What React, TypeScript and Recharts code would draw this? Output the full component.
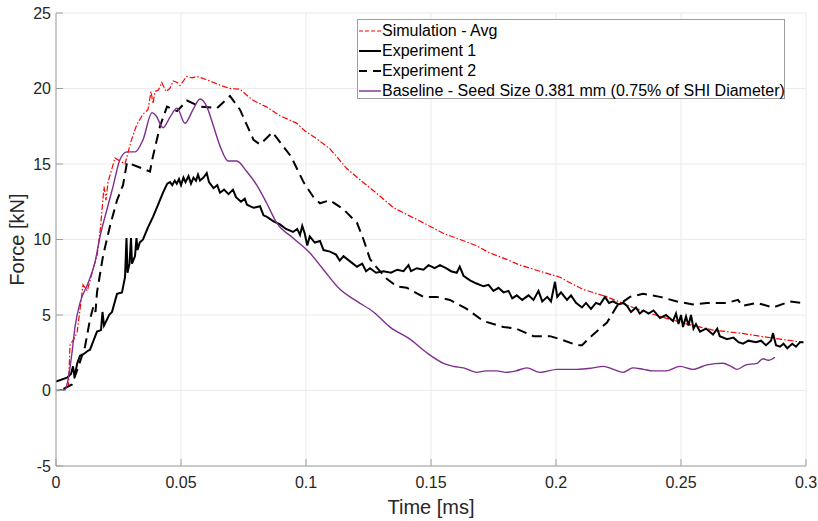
import { LineChart, Line, XAxis, YAxis, CartesianGrid, Legend } from "recharts";

// time [ms] and force [kN]
const simTime = [0, 0.003, 0.005, 0.0056, 0.0075, 0.0085, 0.0108, 0.0125, 0.0148, 0.0165, 0.0178, 0.0192, 0.02, 0.0208, 0.0236, 0.0255, 0.0276, 0.03, 0.0323, 0.0348, 0.0368, 0.038, 0.0388, 0.0396, 0.041, 0.0423, 0.044, 0.0455, 0.0469, 0.0485, 0.0496, 0.0523, 0.0545, 0.0563, 0.06, 0.063, 0.066, 0.0696, 0.0736, 0.076, 0.079, 0.084, 0.0896, 0.0963, 0.0995, 0.104, 0.1096, 0.1163, 0.122, 0.128, 0.135, 0.141, 0.147, 0.155, 0.1616, 0.168, 0.1736, 0.18, 0.1856, 0.1936, 0.2016, 0.206, 0.2108, 0.2204, 0.2308, 0.2416, 0.2524, 0.2628, 0.2736, 0.2816, 0.2896, 0.2984];
const simForce = [0, 0.05, 0.3, 3.0, 3.5, 3.9, 7.0, 6.6, 8.0, 9.0, 10.8, 13.5, 12.6, 13.8, 15.4, 15.2, 15.0, 16.5, 17.6, 18.3, 18.6, 19.8, 19.0, 19.8, 19.9, 20.4, 19.8, 20.0, 20.5, 20.4, 20.2, 20.8, 20.7, 20.8, 20.6, 20.4, 20.2, 20.0, 19.95, 19.6, 19.2, 18.8, 18.2, 17.7, 17.2, 16.7, 16.0, 14.7, 13.9, 13.1, 12.1, 11.6, 11.1, 10.4, 10.0, 9.6, 9.1, 8.7, 8.3, 7.9, 7.5, 7.1, 6.7, 6.2, 5.5, 4.9, 4.4, 4.0, 3.8, 3.6, 3.4, 3.2];

const exp1Time = [0, 0.0044, 0.006, 0.0068, 0.0074, 0.0085, 0.0096, 0.011, 0.0125, 0.0136, 0.015, 0.0164, 0.018, 0.0186, 0.0192, 0.0204, 0.0212, 0.0224, 0.0244, 0.0264, 0.0276, 0.0282, 0.0286, 0.0294, 0.03, 0.0304, 0.0316, 0.0322, 0.0326, 0.0335, 0.0348, 0.0368, 0.0388, 0.0408, 0.0428, 0.0445, 0.0456, 0.0465, 0.0475, 0.0483, 0.0492, 0.05, 0.051, 0.0518, 0.053, 0.054, 0.055, 0.056, 0.0568, 0.0576, 0.059, 0.0603, 0.0612, 0.063, 0.0645, 0.0656, 0.0672, 0.069, 0.0708, 0.072, 0.074, 0.0755, 0.0764, 0.079, 0.0816, 0.083, 0.0844, 0.087, 0.0896, 0.092, 0.0948, 0.0965, 0.0976, 0.0985, 0.0995, 0.1005, 0.1015, 0.1035, 0.1056, 0.107, 0.1096, 0.112, 0.1135, 0.115, 0.118, 0.1204, 0.1225, 0.124, 0.1256, 0.128, 0.131, 0.134, 0.1365, 0.139, 0.141, 0.142, 0.1443, 0.147, 0.149, 0.1515, 0.1536, 0.156, 0.158, 0.1603, 0.1615, 0.163, 0.1656, 0.168, 0.171, 0.173, 0.175, 0.177, 0.179, 0.181, 0.1825, 0.1843, 0.1865, 0.189, 0.191, 0.193, 0.1945, 0.1965, 0.198, 0.1996, 0.2005, 0.202, 0.2044, 0.206, 0.208, 0.2104, 0.212, 0.214, 0.216, 0.2176, 0.2196, 0.2212, 0.2228, 0.225, 0.227, 0.2284, 0.23, 0.232, 0.2335, 0.235, 0.237, 0.239, 0.2416, 0.244, 0.2468, 0.248, 0.249, 0.25, 0.2508, 0.252, 0.253, 0.254, 0.255, 0.256, 0.2576, 0.26, 0.2628, 0.2645, 0.2655, 0.2684, 0.271, 0.273, 0.2748, 0.277, 0.28, 0.282, 0.284, 0.286, 0.2868, 0.288, 0.2896, 0.291, 0.2925, 0.2945, 0.296, 0.2976, 0.299];
const exp1Force = [0.6, 0.85, 1.1, 1.6, 0.9, 1.8, 2.3, 2.4, 2.6, 2.7, 3.3, 3.9, 4.0, 5.2, 4.3, 4.7, 5.0, 5.2, 6.4, 6.5, 7.5, 10.1, 7.8, 8.4, 10.1, 8.4, 8.9, 10.1, 9.3, 9.8, 10.0, 10.8, 11.5, 12.3, 13.1, 13.7, 13.8, 13.6, 13.9, 13.7, 14.0, 13.6, 14.1, 13.8, 14.2, 13.7, 14.1, 13.9, 14.3, 13.9, 14.1, 14.4, 13.8, 13.4, 13.6, 13.1, 13.3, 13.0, 13.3, 12.8, 12.5, 12.7, 12.3, 12.1, 12.2, 11.6, 11.5, 11.2, 11.0, 10.7, 10.5, 10.7, 10.3, 10.9, 10.4, 9.6, 10.2, 9.8, 9.9, 9.3, 9.2, 9.0, 8.6, 8.9, 8.5, 8.2, 8.4, 7.9, 8.1, 7.8, 7.9, 7.8, 8.0, 7.9, 8.3, 7.9, 8.1, 8.0, 8.3, 8.1, 8.3, 8.1, 7.9, 7.8, 8.2, 7.6, 7.3, 7.1, 6.9, 7.0, 6.6, 6.8, 6.5, 6.6, 6.1, 6.3, 6.0, 6.3, 6.0, 6.6, 5.9, 6.2, 5.9, 7.2, 6.2, 6.5, 6.0, 6.3, 5.8, 5.5, 5.8, 5.4, 5.8, 5.7, 6.2, 5.8, 5.9, 5.7, 5.8, 5.6, 5.2, 5.5, 5.1, 5.3, 5.1, 5.3, 4.8, 5.0, 4.6, 5.1, 4.4, 5.0, 4.2, 4.9, 4.3, 5.0, 4.1, 4.4, 3.9, 4.1, 3.7, 4.1, 3.6, 3.4, 3.5, 3.2, 3.1, 3.3, 3.2, 3.3, 3.0, 3.3, 3.8, 3.0, 2.9, 3.1, 2.8, 3.1, 2.9, 3.2, 3.2];

const exp2Time = [0.003, 0.0064, 0.009, 0.0116, 0.0136, 0.015, 0.0158, 0.0164, 0.0188, 0.0216, 0.0244, 0.0268, 0.0284, 0.03, 0.033, 0.0376, 0.0385, 0.0416, 0.0444, 0.0484, 0.0524, 0.0576, 0.0644, 0.0696, 0.0736, 0.079, 0.0816, 0.0866, 0.094, 0.099, 0.103, 0.1056, 0.1096, 0.115, 0.1204, 0.123, 0.1256, 0.128, 0.1323, 0.1363, 0.1403, 0.147, 0.1523, 0.1576, 0.1643, 0.171, 0.179, 0.184, 0.191, 0.1976, 0.2016, 0.2084, 0.2104, 0.2148, 0.2204, 0.2244, 0.2296, 0.2348, 0.2416, 0.2484, 0.2548, 0.2604, 0.2684, 0.2728, 0.2745, 0.2804, 0.2868, 0.2885, 0.2936, 0.2984];
const exp2Force = [0.1, 0.4, 1.6, 2.9, 4.7, 5.6, 5.2, 6.5, 8.9, 10.9, 12.6, 13.6, 15.1, 15.0, 14.8, 14.5, 15.3, 17.5, 18.8, 18.5, 19.2, 18.8, 18.7, 19.5, 18.6, 16.6, 16.3, 17.1, 15.5, 13.8, 12.8, 12.4, 12.6, 12.0, 11.1, 10.0, 8.7, 8.2, 7.4, 6.9, 6.8, 6.2, 6.2, 6.0, 5.4, 4.6, 4.2, 4.1, 3.6, 3.6, 3.4, 3.0, 3.0, 3.7, 4.5, 5.6, 6.2, 6.4, 6.2, 5.9, 5.7, 5.8, 5.8, 6.0, 5.6, 5.8, 5.5, 5.6, 5.9, 5.8];

const baseTime = [0, 0.0036, 0.0048, 0.0064, 0.0076, 0.0096, 0.0128, 0.0156, 0.0176, 0.0204, 0.0228, 0.0256, 0.0284, 0.0316, 0.0348, 0.0384, 0.04, 0.0428, 0.0456, 0.0484, 0.0516, 0.0548, 0.0576, 0.0603, 0.063, 0.0656, 0.0688, 0.0723, 0.0763, 0.0803, 0.0843, 0.0883, 0.0948, 0.1016, 0.107, 0.1136, 0.1204, 0.127, 0.1336, 0.1416, 0.1483, 0.155, 0.159, 0.163, 0.1683, 0.172, 0.1763, 0.18, 0.184, 0.1883, 0.1936, 0.2004, 0.2084, 0.2148, 0.219, 0.223, 0.2268, 0.2308, 0.235, 0.2388, 0.244, 0.2496, 0.2548, 0.2604, 0.2668, 0.27, 0.2724, 0.276, 0.2804, 0.2828, 0.285, 0.2876];
const baseForce = [0, 0.05, 0.7, 2.5, 4.2, 5.8, 7.1, 8.5, 10.2, 12.0, 13.5, 15.3, 15.8, 15.8, 16.6, 18.4, 18.2, 17.4, 18.1, 18.7, 17.7, 18.6, 19.3, 18.8, 17.5, 16.2, 15.2, 15.2, 14.5, 13.6, 12.4, 11.1, 10.1, 9.1, 8.0, 6.7, 5.9, 5.2, 4.2, 3.4, 2.5, 1.8, 1.6, 1.5, 1.2, 1.3, 1.3, 1.2, 1.3, 1.5, 1.2, 1.4, 1.4, 1.5, 1.6, 1.4, 1.2, 1.5, 1.4, 1.3, 1.3, 1.6, 1.4, 1.7, 1.8, 1.6, 1.4, 1.7, 1.8, 2.1, 2.0, 2.2];

const xTicks = [0, 0.05, 0.1, 0.15, 0.2, 0.25, 0.3];
const yTicks = [-5, 0, 5, 10, 15, 20, 25];

const toRows = (t: number[], f: number[]) => t.map((v, i) => ({ t: v, f: f[i] }));

const series = [
  { name: "Simulation - Avg", rows: toRows(simTime, simForce), color: "#ff0000", width: 1.2, dash: "6 2 1.5 2", legendDash: "4 2", curve: "linear" },
  { name: "Experiment 1", rows: toRows(exp1Time, exp1Force), color: "#000000", width: 2, dash: undefined, legendDash: undefined, curve: "linear" },
  { name: "Experiment 2", rows: toRows(exp2Time, exp2Force), color: "#000000", width: 2, dash: "10 6", legendDash: "8 6", curve: "linear" },
  { name: "Baseline - Seed Size 0.381 mm (0.75% of SHI Diameter)", rows: toRows(baseTime, baseForce), color: "#7e2f8e", width: 1.4, dash: undefined, legendDash: undefined, curve: "monotone" },
];

const FONT = "'Liberation Sans', Arial, Helvetica, sans-serif";
const AXIS = "#9e9e9e";
const TEXT = "#262626";

function LegendBox() {
  return (
    <div style={{ border: `1px solid ${AXIS}`, background: "#fff", height: 80, boxSizing: "border-box", paddingTop: 1, fontFamily: FONT, fontSize: 16, color: "#000" }}>
      {series.map((s) => (
        <div key={s.name} style={{ height: 20, display: "flex", alignItems: "center", whiteSpace: "nowrap" }}>
          <svg width={24} height={20} style={{ flex: "none" }}>
            <line x1={1} y1={10} x2={23} y2={10} stroke={s.color} strokeWidth={s.width} strokeDasharray={s.legendDash} />
          </svg>
          <span>{s.name}</span>
        </div>
      ))}
    </div>
  );
}

export default function App() {
  return (
    <div style={{ position: "absolute", left: 0, top: 0, background: "#fff" }}>
      <LineChart width={818} height={521} margin={{ top: 13, right: 12, bottom: 0, left: 0 }}>
        <CartesianGrid stroke="#ebebeb" />
        <XAxis
          dataKey="t"
          type="number"
          domain={[0, 0.3]}
          ticks={xTicks}
          interval={0}
          allowDataOverflow
          height={55}
          stroke={AXIS}
          tickSize={-7}
          tickMargin={18}
          tick={{ fill: TEXT, fontSize: 16, fontFamily: FONT }}
          label={(p: any) => (
            <text x={p.viewBox.x + p.viewBox.width / 2} y={p.viewBox.y + 48} textAnchor="middle" fill={TEXT} fontSize={20} fontFamily={FONT}>
              Time [ms]
            </text>
          )}
        />
        <XAxis xAxisId="top" orientation="top" type="number" domain={[0, 0.3]} ticks={xTicks} interval={0} allowDataOverflow height={0} stroke={AXIS} tickSize={-7} tick={false} />
        <YAxis
          type="number"
          domain={[-5, 25]}
          ticks={yTicks}
          interval={0}
          allowDataOverflow
          width={56}
          stroke={AXIS}
          tickSize={-7}
          tickMargin={12}
          tick={{ fill: TEXT, fontSize: 16, fontFamily: FONT }}
          label={(p: any) => {
            const cx = p.viewBox.x + 17;
            const cy = p.viewBox.y + p.viewBox.height / 2;
            return (
              <text x={cx} y={cy} transform={`rotate(-90 ${cx} ${cy})`} textAnchor="middle" dominantBaseline="central" fill={TEXT} fontSize={20} fontFamily={FONT}>
                Force [kN]
              </text>
            );
          }}
        />
        <YAxis yAxisId="right" orientation="right" type="number" domain={[-5, 25]} ticks={yTicks} interval={0} allowDataOverflow width={0} stroke={AXIS} tickSize={-7} tick={false} />
        {series.map((s) => (
          <Line
            key={s.name}
            data={s.rows}
            dataKey="f"
            name={s.name}
            type={s.curve as any}
            stroke={s.color}
            strokeWidth={s.width}
            strokeDasharray={s.dash}
            dot={false}
            activeDot={false}
            isAnimationActive={false}
          />
        ))}
        <Legend layout="horizontal" verticalAlign="middle" align="center" content={() => <LegendBox />} wrapperStyle={{ left: 357, top: 19, width: 428, height: 80 }} />
      </LineChart>
    </div>
  );
}
